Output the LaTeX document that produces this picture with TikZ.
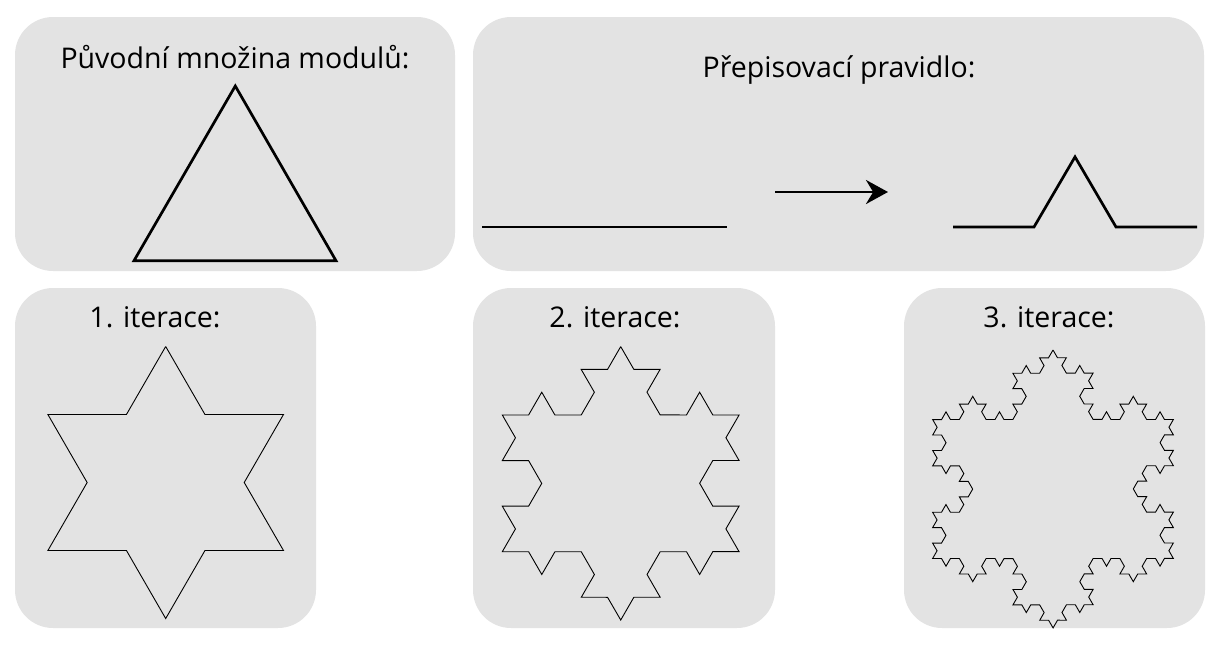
\documentclass[tikz,border=0pt]{standalone}
\usepackage{fontspec}
\setmainfont{Open Sans}
\usetikzlibrary{arrows.meta}
\usetikzlibrary{decorations.fractals}
\definecolor{boxgray}{RGB}{227,227,227}

\begin{document}
\begin{tikzpicture}[x=1pt,y=-1pt,
  box/.style={fill=boxgray,rounded corners=38pt},
  title/.style={font=\fontsize{28.5}{32}\selectfont,anchor=base,inner sep=0pt},
  thickline/.style={line width=2.7pt,line join=miter},
  kochline/.style={line width=0.9pt,line join=miter,decoration=Koch snowflake},
]
\useasboundingbox (0,0) rectangle (1218,648);
% grey panels
\fill[box] (15,17) rectangle (455,271);
\fill[box] (473,17) rectangle (1204,271);
\fill[box] (15,288) rectangle (316,628);
\fill[box] (473,288) rectangle (775,628);
\fill[box] (904,288) rectangle (1205,628);
% titles
\node[title] (start) at (235,68) {Původní množina modulů:};
\node[title] (rule) at (839,77) {Přepisovací pravidlo:};
\node[title] (iterone) at (155,327) {1. iterace:};
\node[title] (itertwo) at (615,327) {2. iterace:};
\node[title] (iterthree) at (1049,327) {3. iterace:};
% starting triangle
\draw[thickline] (235.3,86) -- (336,260.7) -- (134,260.7) -- cycle;
% rewriting rule
\draw[thickline] (482,227) -- (727,227);
\coordinate (arrowstart) at (775,192);
\coordinate (arrowend) at (888,192);
\draw[thickline,-{Stealth[length=22pt,width=24pt]}] (arrowstart) -- (arrowend);
\draw[thickline] (953,227) -- (1034,227) -- (1075,156.9) -- (1116,227) -- (1197,227);
% iterations, triangle walked clockwise so the bumps point outwards
\draw[kochline] decorate{(165.7,346.5) -- (283.5,550.5) -- (47.9,550.5) -- (165.7,346.5)};
\draw[kochline] decorate{decorate{(620.7,346.6) -- (739.1,551.7) -- (502.3,551.7) -- (620.7,346.6)}};
\draw[kochline] decorate{decorate{decorate{(1053,350) -- (1173.4,558.5) -- (932.6,558.5) -- (1053,350)}}};
\end{tikzpicture}
\end{document}
